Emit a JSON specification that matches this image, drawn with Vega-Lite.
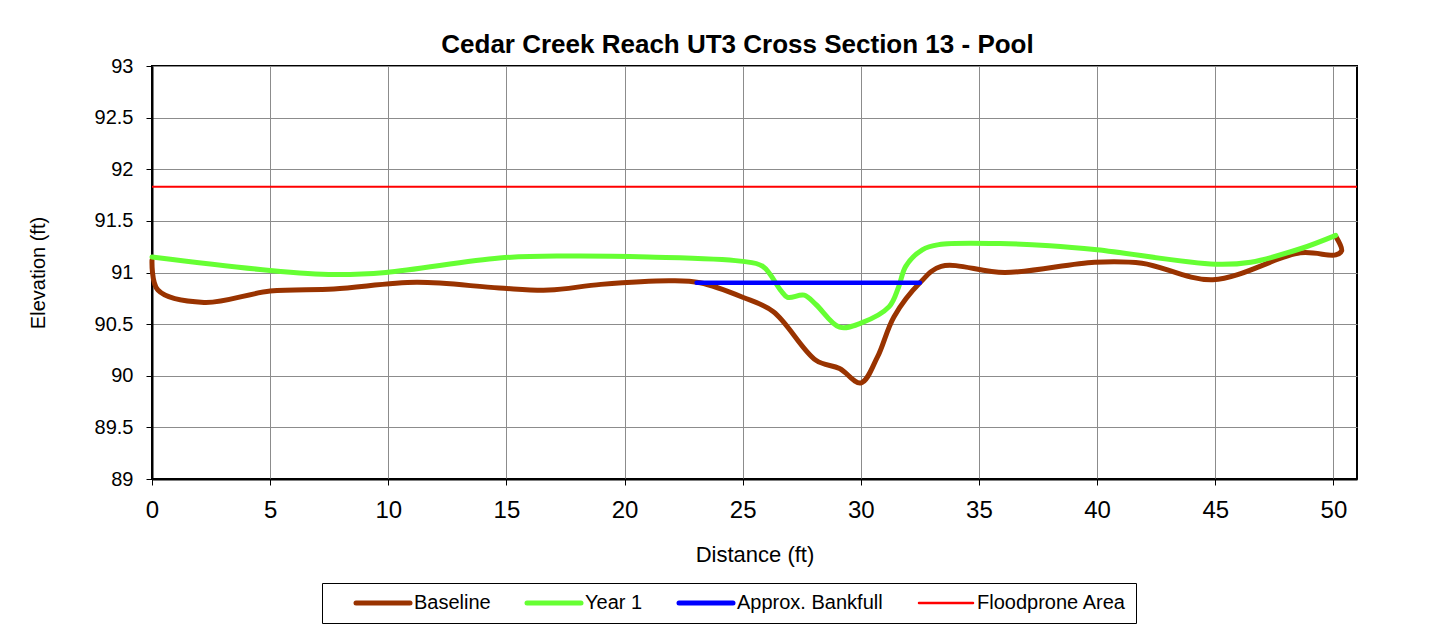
{
  "$schema": "https://vega.github.io/schema/vega-lite/v6.json",
  "width": 1205,
  "height": 413,
  "autosize": {"type": "none"},
  "padding": {"left": 152, "top": 66, "right": 96, "bottom": 156},
  "background": "white",
  "title": {
    "text": "Cedar Creek Reach UT3 Cross Section 13 - Pool",
    "font": "Liberation Sans",
    "fontSize": 26,
    "fontWeight": "bold",
    "color": "black",
    "anchor": "middle",
    "frame": "group",
    "dx": -17,
    "dy": 36,
    "baseline": "alphabetic",
    "offset": 13
  },
  "config": {
    "font": "Liberation Sans",
    "view": {"stroke": "black", "strokeWidth": 2},
    "axis": {
      "gridColor": "#8c8c8c",
      "gridWidth": 1,
      "domainColor": "black",
      "domainWidth": 2,
      "tickColor": "black",
      "tickWidth": 1,
      "tickSize": 6,
      "labelColor": "black",
      "titleColor": "black",
      "titleFontWeight": "normal",
      "labelFont": "Liberation Sans",
      "titleFont": "Liberation Sans"
    }
  },
  "data": {
    "values": [
      {"series": "Baseline", "i": 0, "x": 0, "y": 91.12},
      {"series": "Baseline", "i": 1, "x": 0.25, "y": 90.83},
      {"series": "Baseline", "i": 2, "x": 2.2, "y": 90.71},
      {"series": "Baseline", "i": 3, "x": 5.0, "y": 90.82},
      {"series": "Baseline", "i": 4, "x": 7.7, "y": 90.84},
      {"series": "Baseline", "i": 5, "x": 11.2, "y": 90.905},
      {"series": "Baseline", "i": 6, "x": 14.7, "y": 90.85},
      {"series": "Baseline", "i": 7, "x": 16.8, "y": 90.83},
      {"series": "Baseline", "i": 8, "x": 19.0, "y": 90.885},
      {"series": "Baseline", "i": 9, "x": 22.0, "y": 90.92},
      {"series": "Baseline", "i": 10, "x": 23.2, "y": 90.9},
      {"series": "Baseline", "i": 11, "x": 25.0, "y": 90.76},
      {"series": "Baseline", "i": 12, "x": 26.3, "y": 90.62},
      {"series": "Baseline", "i": 13, "x": 28.1, "y": 90.15},
      {"series": "Baseline", "i": 14, "x": 29.1, "y": 90.07},
      {"series": "Baseline", "i": 15, "x": 30.0, "y": 89.93},
      {"series": "Baseline", "i": 16, "x": 30.7, "y": 90.18},
      {"series": "Baseline", "i": 17, "x": 31.4, "y": 90.57},
      {"series": "Baseline", "i": 18, "x": 32.5, "y": 90.9},
      {"series": "Baseline", "i": 19, "x": 33.4, "y": 91.06},
      {"series": "Baseline", "i": 20, "x": 36.1, "y": 91.0},
      {"series": "Baseline", "i": 21, "x": 39.9, "y": 91.1},
      {"series": "Baseline", "i": 22, "x": 41.9, "y": 91.09},
      {"series": "Baseline", "i": 23, "x": 44.9, "y": 90.93},
      {"series": "Baseline", "i": 24, "x": 48.6, "y": 91.19},
      {"series": "Baseline", "i": 25, "x": 50.1, "y": 91.17},
      {"series": "Baseline", "i": 26, "x": 50.35, "y": 91.21},
      {"series": "Baseline", "i": 27, "x": 50.1, "y": 91.35},
      {"series": "Year 1", "i": 0, "x": 0, "y": 91.15},
      {"series": "Year 1", "i": 1, "x": 5.0, "y": 91.02},
      {"series": "Year 1", "i": 2, "x": 7.7, "y": 90.98},
      {"series": "Year 1", "i": 3, "x": 9.9, "y": 91.0},
      {"series": "Year 1", "i": 4, "x": 14.7, "y": 91.14},
      {"series": "Year 1", "i": 5, "x": 17.5, "y": 91.16},
      {"series": "Year 1", "i": 6, "x": 21.0, "y": 91.15},
      {"series": "Year 1", "i": 7, "x": 24.9, "y": 91.11},
      {"series": "Year 1", "i": 8, "x": 25.85, "y": 91.06},
      {"series": "Year 1", "i": 9, "x": 26.6, "y": 90.83},
      {"series": "Year 1", "i": 10, "x": 26.9, "y": 90.76},
      {"series": "Year 1", "i": 11, "x": 27.6, "y": 90.78},
      {"series": "Year 1", "i": 12, "x": 28.1, "y": 90.69},
      {"series": "Year 1", "i": 13, "x": 29.1, "y": 90.47},
      {"series": "Year 1", "i": 14, "x": 30.0, "y": 90.51},
      {"series": "Year 1", "i": 15, "x": 31.2, "y": 90.67},
      {"series": "Year 1", "i": 16, "x": 31.6, "y": 90.86},
      {"series": "Year 1", "i": 17, "x": 31.9, "y": 91.06},
      {"series": "Year 1", "i": 18, "x": 32.6, "y": 91.22},
      {"series": "Year 1", "i": 19, "x": 33.3, "y": 91.27},
      {"series": "Year 1", "i": 20, "x": 35.9, "y": 91.28},
      {"series": "Year 1", "i": 21, "x": 38.0, "y": 91.26},
      {"series": "Year 1", "i": 22, "x": 40.0, "y": 91.22},
      {"series": "Year 1", "i": 23, "x": 45.0, "y": 91.08},
      {"series": "Year 1", "i": 24, "x": 46.5, "y": 91.1},
      {"series": "Year 1", "i": 25, "x": 48.6, "y": 91.23},
      {"series": "Year 1", "i": 26, "x": 50.1, "y": 91.36},
      {"series": "Approx. Bankfull", "i": 0, "x": 23.05, "y": 90.9},
      {"series": "Approx. Bankfull", "i": 1, "x": 32.5, "y": 90.9},
      {"series": "Floodprone Area", "i": 0, "x": 0, "y": 91.83},
      {"series": "Floodprone Area", "i": 1, "x": 51, "y": 91.83}
    ]
  },
  "encoding": {
    "x": {
      "field": "x",
      "type": "quantitative",
      "scale": {"domain": [0, 51], "nice": false, "zero": false},
      "axis": {
        "title": "Distance (ft)",
        "values": [0, 5, 10, 15, 20, 25, 30, 35, 40, 45, 50],
        "labelFontSize": 24,
        "labelPadding": 13,
        "titleFontSize": 22,
        "titlePadding": 22,
        "labelFlush": false
      }
    },
    "y": {
      "field": "y",
      "type": "quantitative",
      "scale": {"domain": [89, 93], "nice": false, "zero": false},
      "axis": {
        "title": "Elevation (ft)",
        "values": [89, 89.5, 90, 90.5, 91, 91.5, 92, 92.5, 93],
        "format": "~f",
        "labelFontSize": 20,
        "labelPadding": 13,
        "titleFontSize": 20,
        "titlePadding": 46
      }
    },
    "order": {"field": "i", "type": "quantitative"},
    "color": {
      "field": "series",
      "type": "nominal",
      "scale": {
        "domain": ["Baseline", "Year 1", "Approx. Bankfull", "Floodprone Area"],
        "range": ["#993300", "#66FF33", "#0000FF", "#FF0000"]
      },
      "legend": {
        "title": null,
        "orient": "none",
        "legendX": 170,
        "legendY": 517,
        "direction": "horizontal",
        "columns": 4,
        "columnPadding": 12,
        "padding": 10,
        "strokeColor": "black",
        "fillColor": "white",
        "symbolType": "M1.4,0H6.8",
        "symbolSize": 400,
        "symbolStrokeWidth": 5,
        "labelOffset": 62,
        "labelFontSize": 20,
        "labelColor": "black",
        "labelLimit": 300,
        "encode": {
          "symbols": {
            "update": {
              "strokeWidth": {"signal": "datum.value === 'Floodprone Area' ? 2.5 : 5"},
              "strokeCap": {"value": "round"}
            }
          }
        }
      }
    }
  },
  "layer": [
    {
      "transform": [{"filter": "datum.series === 'Baseline'"}],
      "mark": {"type": "line", "interpolate": "catmull-rom", "strokeWidth": 5, "strokeCap": "round", "strokeJoin": "round"}
    },
    {
      "transform": [{"filter": "datum.series === 'Year 1'"}],
      "mark": {"type": "line", "interpolate": "catmull-rom", "strokeWidth": 5, "strokeCap": "round", "strokeJoin": "round"}
    },
    {
      "transform": [{"filter": "datum.series === 'Approx. Bankfull'"}],
      "mark": {"type": "line", "strokeWidth": 4.5, "strokeCap": "round"}
    },
    {
      "transform": [{"filter": "datum.series === 'Floodprone Area'"}],
      "mark": {"type": "line", "strokeWidth": 2}
    }
  ]
}
